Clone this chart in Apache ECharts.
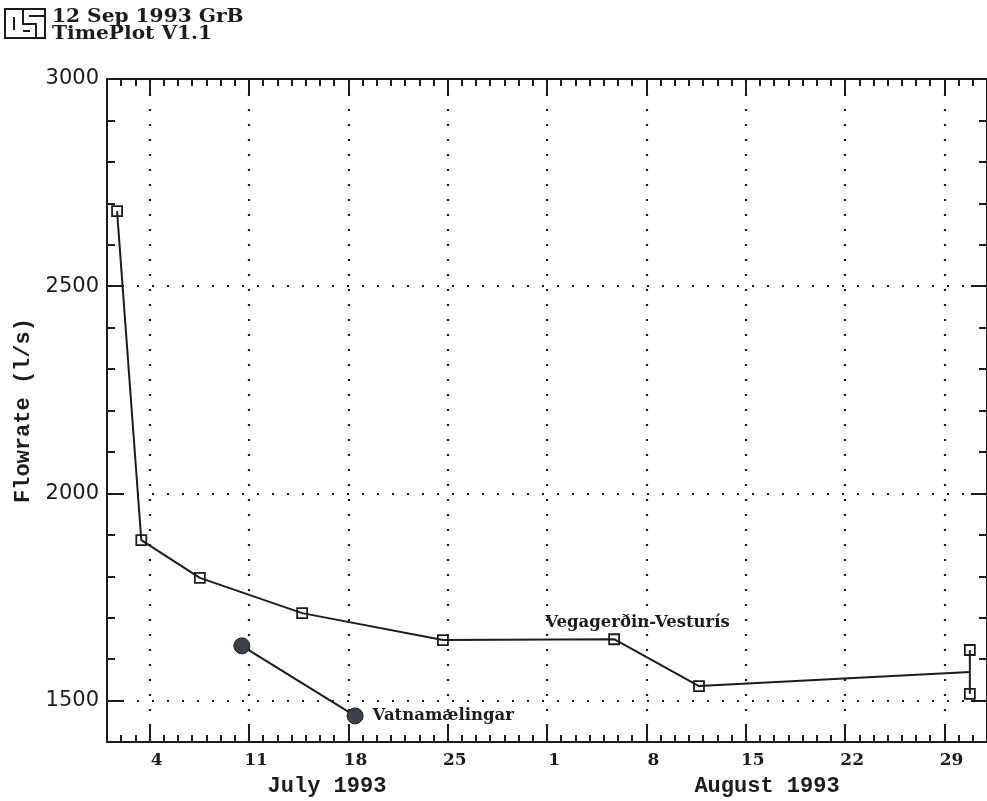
<!DOCTYPE html>
<html>
<head>
<meta charset="utf-8">
<script src="https://cdn.jsdelivr.net/npm/echarts@6/dist/echarts.min.js"></script>
<style>
html,body{margin:0;padding:0;background:#fff;}
#chart{width:987px;height:801px;}
</style>
</head>
<body>
<div id="chart"></div>
<script>
// ---------- data ----------
const startDate = '1993-07-01';
const endDate = '1993-09-01';
const vegName = 'Vegagerðin-Vesturís';
const vegDates = ['1993-07-01T17:00','1993-07-03T10:00','1993-07-07T13:00','1993-07-14T18:00',
                  '1993-07-24T16:00','1993-08-05T17:30','1993-08-11T17:00','1993-08-30T19:00'];
const vegValues = [2681, 1887, 1796, 1711, 1646, 1648, 1535, 1569];
const vegRangeDate = '1993-08-30T19:00';
const vegRangeValues = [1622, 1516];
const vatnName = 'Vatnamælingar';
const vatnDates = ['1993-07-10T12:00','1993-07-18T11:30'];
const vatnValues = [1632, 1463];
const weekTickDates = ['1993-07-04','1993-07-11','1993-07-18','1993-07-25','1993-08-01',
                       '1993-08-08','1993-08-15','1993-08-22','1993-08-29'];
const monthLabels = ['July 1993', 'August 1993'];
const monthMidDates = ['1993-07-16T12:00', '1993-08-16T12:00'];
const yMajorTicks = [1500, 2000, 2500, 3000];
const yMin = 1400, yMax = 3000, yMinorStep = 100;
const yTitle = 'Flowrate (l/s)';
const headerLines = ['12 Sep 1993 GrB', 'TimePlot V1.1'];

// ---------- helpers ----------
const DAY = 864e5;
const t0 = Date.parse(startDate + 'T00:00Z');
const toDay = s => (Date.parse((s.length === 10 ? s + 'T00:00' : s) + 'Z') - t0) / DAY;
const xMax = toDay(endDate);
const weekTicks = weekTickDates.map(toDay);
const weekLabelPos = weekTicks.map(d => d + 0.5);
const monthPos = monthMidDates.map(toDay);

const INK = '#1c1c1c';
const axisLineStyle = { color: INK, width: 2 };
const dotted = { color: INK, width: 2.2, type: [2, 13] };

function xAxisBase(pos) {
  return { type: 'value', position: pos, min: 0, max: xMax, gridIndex: 0 };
}
function yAxisBase(pos) {
  return { type: 'value', position: pos, min: yMin, max: yMax, gridIndex: 0 };
}

const xAxes = [
  // 0 bottom major
  Object.assign(xAxisBase('bottom'), {
    axisLine: { show: true, onZero: false, lineStyle: axisLineStyle },
    axisTick: { show: true, inside: true, length: 17, customValues: weekTicks, lineStyle: { color: INK, width: 2 } },
    axisLabel: { show: true, customValues: weekLabelPos, margin: 10,
      fontFamily: 'DejaVu Serif', fontWeight: 'bold', fontSize: 17, color: INK,
      formatter: v => String(new Date(t0 + v * DAY).getUTCDate()) },
    splitLine: { show: true, lineStyle: dotted }
  }),
  // 1 bottom minor
  Object.assign(xAxisBase('bottom'), {
    interval: 1,
    axisLine: { show: false, onZero: false },
    axisTick: { show: true, inside: true, length: 7, lineStyle: { color: INK, width: 2 } },
    axisLabel: { show: false }, splitLine: { show: false }
  }),
  // 2 top major
  Object.assign(xAxisBase('top'), {
    axisLine: { show: true, onZero: false, lineStyle: axisLineStyle },
    axisTick: { show: true, inside: true, length: 16, customValues: weekTicks, lineStyle: { color: INK, width: 2 } },
    axisLabel: { show: false }, splitLine: { show: false }
  }),
  // 3 top minor
  Object.assign(xAxisBase('top'), {
    interval: 1,
    axisLine: { show: false, onZero: false },
    axisTick: { show: true, inside: true, length: 7, lineStyle: { color: INK, width: 2 } },
    axisLabel: { show: false }, splitLine: { show: false }
  }),
  // 4 month labels
  Object.assign(xAxisBase('bottom'), {
    axisLine: { show: false, onZero: false },
    axisTick: { show: false },
    axisLabel: { show: true, customValues: monthPos, margin: 33,
      fontFamily: 'Liberation Mono', fontWeight: 'bold', fontSize: 22, color: INK,
      formatter: v => { const i = monthPos.findIndex(m => Math.abs(m - v) < 1e-6); return i >= 0 ? monthLabels[i] : ''; } },
    splitLine: { show: false }
  })
];

const yAxes = [
  // 0 left major
  Object.assign(yAxisBase('left'), {
    name: yTitle, nameLocation: 'middle', nameRotate: 90, nameGap: 68,
    nameTextStyle: { fontFamily: 'Liberation Mono', fontWeight: 'bold', fontSize: 22, color: INK },
    axisLine: { show: true, onZero: false, lineStyle: axisLineStyle },
    axisTick: { show: true, inside: true, length: 16, customValues: yMajorTicks, lineStyle: { color: INK, width: 2 } },
    axisLabel: { show: true, customValues: yMajorTicks, margin: 8,
      fontFamily: 'DejaVu Sans', fontSize: 21, color: INK, formatter: v => String(v) },
    splitLine: { show: true, lineStyle: dotted }
  }),
  // 1 left minor
  Object.assign(yAxisBase('left'), {
    interval: yMinorStep,
    axisLine: { show: false, onZero: false },
    axisTick: { show: true, inside: true, length: 8, lineStyle: { color: INK, width: 2 } },
    axisLabel: { show: false }, splitLine: { show: false }
  }),
  // 2 right major
  Object.assign(yAxisBase('right'), {
    axisLine: { show: true, onZero: false, lineStyle: axisLineStyle },
    axisTick: { show: true, inside: true, length: 16, customValues: yMajorTicks, lineStyle: { color: INK, width: 2 } },
    axisLabel: { show: false }, splitLine: { show: false }
  }),
  // 3 right minor
  Object.assign(yAxisBase('right'), {
    interval: yMinorStep,
    axisLine: { show: false, onZero: false },
    axisTick: { show: true, inside: true, length: 8, lineStyle: { color: INK, width: 2 } },
    axisLabel: { show: false }, splitLine: { show: false }
  })
];

const vegData = vegDates.map((d, i) => {
  const item = { value: [toDay(d), vegValues[i]] };
  if (i === vegDates.length - 1) item.symbol = 'none';
  if (i === 5) item.label = {
    show: true, position: [-63, -11], align: 'left', verticalAlign: 'middle',
    formatter: vegName, fontFamily: 'DejaVu Serif', fontWeight: 'bold', fontSize: 16.5, color: INK
  };
  return item;
});
const vegRangeData = vegRangeValues.map(v => [toDay(vegRangeDate), v]);
const vatnData = vatnDates.map((d, i) => {
  const item = { value: [toDay(d), vatnValues[i]] };
  if (i === vatnDates.length - 1) item.label = {
    show: true, position: 'right', distance: 9, formatter: vatnName,
    fontFamily: 'DejaVu Serif', fontWeight: 'bold', fontSize: 16.5, color: INK
  };
  return item;
});

const squareStyle = { color: 'rgba(0,0,0,0)', borderColor: INK, borderWidth: 1.8 };

const option = {
  animation: false,
  backgroundColor: '#ffffff',
  grid: { left: 107, right: 0, top: 79, bottom: 59, containLabel: false, outerBoundsMode: 'none' },
  xAxis: xAxes,
  yAxis: yAxes,
  series: [
    { name: vegName, type: 'line', xAxisIndex: 0, yAxisIndex: 0, data: vegData,
      symbol: 'rect', symbolSize: 10, lineStyle: { color: INK, width: 2 }, itemStyle: squareStyle, z: 3 },
    { name: vegName + ' range', type: 'line', xAxisIndex: 0, yAxisIndex: 0, data: vegRangeData,
      symbol: 'rect', symbolSize: 10, lineStyle: { color: INK, width: 2 }, itemStyle: squareStyle, z: 3 },
    { name: vatnName, type: 'line', xAxisIndex: 0, yAxisIndex: 0, data: vatnData,
      symbol: 'circle', symbolSize: 16, lineStyle: { color: INK, width: 2 },
      itemStyle: { color: '#3c4247', borderColor: '#1c1c1c', borderWidth: 1 }, z: 4 }
  ],
  graphic: [
    { type: 'rect', shape: { x: 5, y: 9, width: 40, height: 29 }, style: { fill: 'none', stroke: INK, lineWidth: 2 } },
    { type: 'polyline', shape: { points: [[14, 17], [14, 30]] }, style: { stroke: INK, lineWidth: 2, fill: 'none' } },
    { type: 'polyline', shape: { points: [[23, 9], [23, 24], [36, 24], [36, 38]] }, style: { stroke: INK, lineWidth: 2, fill: 'none' } },
    { type: 'polyline', shape: { points: [[29, 16], [45, 16]] }, style: { stroke: INK, lineWidth: 2, fill: 'none' } },
    { type: 'polyline', shape: { points: [[23, 31], [30, 31]] }, style: { stroke: INK, lineWidth: 2, fill: 'none' } },
    { type: 'text', x: 52, y: 8, scaleX: 1.12, originX: 0, originY: 0,
      style: { text: headerLines[0], font: 'bold 18px "DejaVu Serif"', fill: INK } },
    { type: 'text', x: 52, y: 25, scaleX: 1.12, originX: 0, originY: 0,
      style: { text: headerLines[1], font: 'bold 18px "DejaVu Serif"', fill: INK } }
  ]
};

const chart = echarts.init(document.getElementById('chart'), null, { renderer: 'canvas' });
chart.setOption(option);
</script>
</body>
</html>
